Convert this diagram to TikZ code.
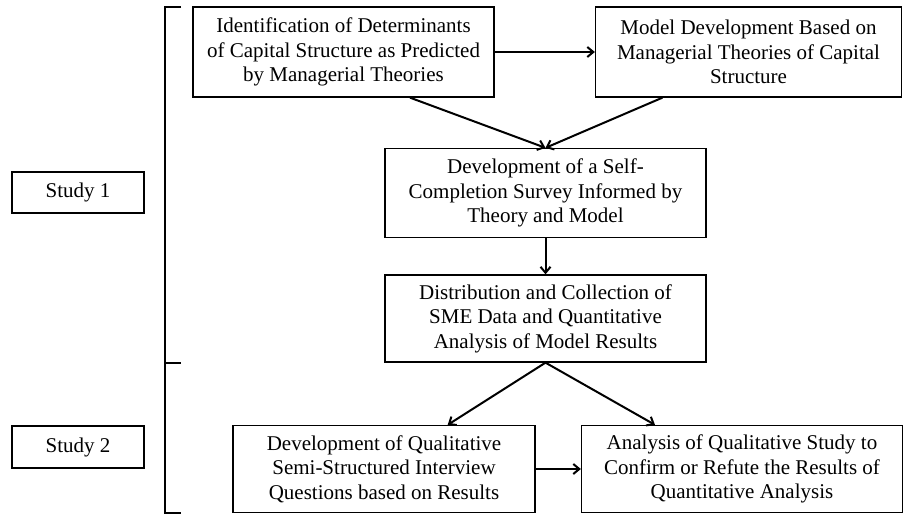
\documentclass[tikz,border=0pt]{standalone}
\usepackage{fontspec}
\setmainfont{Liberation Serif}
\usetikzlibrary{arrows.meta,calc}
\tikzset{
  box/.style={draw, line width=1.3pt, align=center, inner sep=0pt,
    font=\fontsize{21}{24.5}\selectfont},
  conn/.style={line width=2pt, -{Straight Barb[length=6pt,width=10pt,line width=2pt]}},
  brack/.style={line width=2pt}
}
\begin{document}
\begin{tikzpicture}[x=1pt,y=-1pt]
\useasboundingbox (0,0) rectangle (904,514);
\node[box, minimum width=301pt, minimum height=90pt] (A) at (343.5,52)
  {Identification of Determinants\\of Capital Structure as Predicted\\by Managerial Theories};
\node[box, minimum width=306pt, minimum height=90pt] (B) at (748.5,52)
  {Model Development Based on\\Managerial Theories of Capital\\Structure};
\node[box, minimum width=321pt, minimum height=89pt] (C) at (545.5,193)
  {Development of a Self-\\Completion Survey Informed by\\Theory and Model};
\node[box, minimum width=321pt, minimum height=87pt] (D) at (545.5,318.5)
  {Distribution and Collection of\\SME Data and Quantitative\\Analysis of Model Results};
\node[box, minimum width=302pt, minimum height=87pt] (E) at (384,469)
  {Development of Qualitative\\Semi-Structured Interview\\Questions based on Results};
\node[box, minimum width=321pt, minimum height=87pt] (F) at (742,469)
  {Analysis of Qualitative Study to\\Confirm or Refute the Results of\\Quantitative Analysis};
\node[box, minimum width=132pt, minimum height=41pt] (S1) at (78,192.5) {Study 1};
\node[box, minimum width=132pt, minimum height=42pt] (S2) at (78,447) {Study 2};

\draw[conn] (A.east) -- (B.west);
\draw[conn] ($(A.south west)!0.72!(A.south east)$) -- (C.north);
\draw[conn] ($(B.south west)!0.22!(B.south east)$) -- (C.north);
\draw[conn] (C.south) -- (D.north);
\draw[conn] (D.south) -- ($(E.north west)!0.71!(E.north east)$);
\draw[conn] (D.south) -- ($(F.north west)!0.23!(F.north east)$);
\draw[conn] (E.east) -- (F.west);

\draw[brack] (181,7) -- (165,7) -- (165,513) -- (181,513);
\draw[brack] (165,363) -- (181,363);
\end{tikzpicture}
\end{document}
